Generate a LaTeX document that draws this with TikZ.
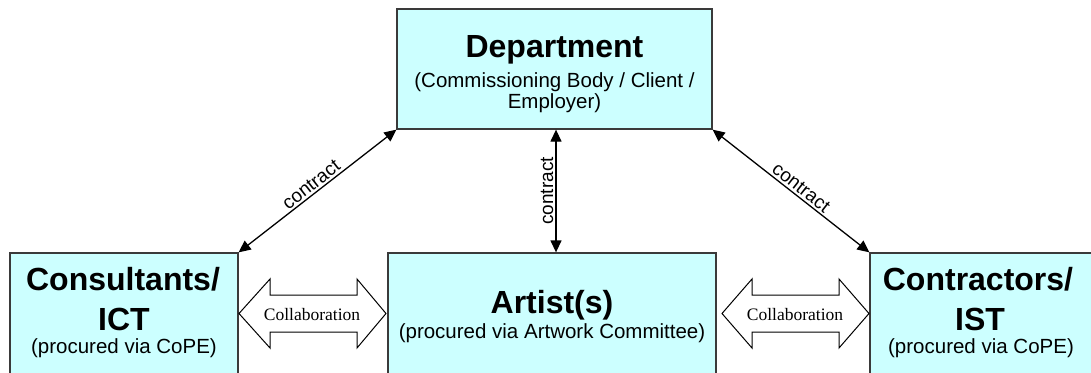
\documentclass[tikz,border=0pt]{standalone}
\usepackage{fontspec}
\setmainfont{Liberation Sans}
\newfontfamily\timesf{Liberation Serif}
\usetikzlibrary{arrows.meta}
\definecolor{boxfill}{HTML}{CCFFFF}
\definecolor{boxline}{HTML}{3A3A3A}
\begin{document}
\begin{tikzpicture}[x=1pt,y=-1pt,
  box/.style={draw=boxline, line width=1.3pt, fill=boxfill, inner sep=0pt},
  title/.style={font=\fontsize{32}{36}\selectfont\bfseries, anchor=base, inner sep=0pt},
  sub/.style={font=\fontsize{20.5}{24}\selectfont, anchor=base, inner sep=0pt},
  conn/.style={line width=1.3pt, {Triangle[length=12pt,width=11pt]}-{Triangle[length=12pt,width=11pt]}},
  lab/.style={font=\fontsize{19}{22}\selectfont, inner sep=2pt},
  collab/.style={draw=black, line width=1pt, fill=white, line join=miter},
  collabtext/.style={font=\timesf\fontsize{17.5}{20}\selectfont, anchor=base, inner sep=0pt}]

\path[use as bounding box, clip] (0,0) rectangle (1091,372);
\fill[white] (0,0) rectangle (1091,372);

% boxes
\node[box, minimum width=315pt, minimum height=120pt] (dep) at (554.5,69) {};
\node[box, minimum width=228pt, minimum height=147pt] (cons) at (124,326.5) {};
\node[box, minimum width=328pt, minimum height=147pt] (art) at (552,326.5) {};
\node[box, minimum width=230pt, minimum height=147pt] (contr) at (985,326.5) {};

% texts
\node[title] (depT) at (554.5,57) {Department};
\node[sub] (depS1) at (554.5,87) {(Commissioning Body / Client /};
\node[sub] (depS2) at (554.5,108) {Employer)};

\node[title] (consT1) at (123,290) {Consultants/};
\node[title] (consT2) at (124,330) {ICT};
\node[sub] (consS) at (124,353) {(procured via CoPE)};

\node[title] (artT) at (552,313) {Artist(s)};
\node[sub] (artS) at (552,338) {(procured via Artwork Committee)};

\node[title] (contrT1) at (978,290) {Contractors/};
\node[title] (contrT2) at (980,330) {IST};
\node[sub] (contrS) at (981,353) {(procured via CoPE)};

% collaboration arrows
\draw[collab] (239,313.5) -- (270,279) -- (270,295) -- (357,295) -- (357,279) -- (386,313.5)
  -- (357,348) -- (357,332) -- (270,332) -- (270,348) -- cycle;
\node[collabtext] (colL) at (312,320) {Collaboration};
\draw[collab] (722,313.5) -- (752,279) -- (752,295) -- (839,295) -- (839,279) -- (869,313.5)
  -- (839,348) -- (839,332) -- (752,332) -- (752,348) -- cycle;
\node[collabtext] (colR) at (795,320) {Collaboration};

% contract connectors
\coordinate (cx) at (556,0);
\draw[conn] (cons.north east) -- node[lab, sloped, above, pos=0.495] {contract} (dep.south west);
\draw[conn] (cx |- art.north) -- node[lab, sloped, above, pos=0.5] {contract} (cx |- dep.south);
\draw[conn] (dep.south east) -- node[lab, sloped, above, pos=0.53] {contract} (contr.north west);
\end{tikzpicture}
\end{document}
